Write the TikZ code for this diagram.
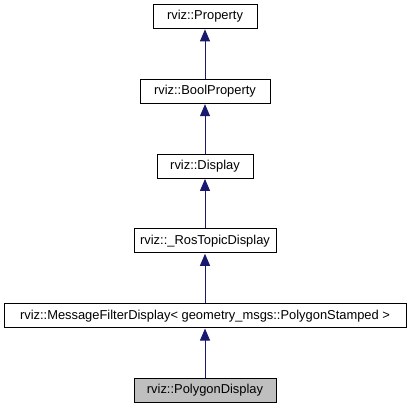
\documentclass[tikz,border=0pt]{standalone}
\usepackage{fontspec}
\setmainfont{Liberation Sans}
\usetikzlibrary{arrows.meta}
\definecolor{edgeblue}{HTML}{191970}
\definecolor{hlgray}{HTML}{BFBFBF}
\tikzset{
  cls/.style={draw=black, line width=0.9pt, minimum height=24pt, inner sep=0pt, font=\fontsize{12.9}{14}\selectfont, fill=white},
  inh/.style={draw=edgeblue, line width=1pt, -{Triangle[length=12pt,width=10pt]}, shorten >=0.4pt}
}
\begin{document}
\begin{tikzpicture}[x=1pt,y=1pt]
\useasboundingbox (0,0) rectangle (411,-411);
\node[cls, minimum width=104pt] (prop) at (205,-16.5) {rviz::Property};
\node[cls, minimum width=130pt] (bool) at (205,-91.3) {rviz::BoolProperty};
\node[cls, minimum width=96pt] (disp) at (205,-166.1) {rviz::Display};
\node[cls, minimum width=142pt] (ros) at (205,-240.9) {rviz::\_RosTopicDisplay};
\node[cls, minimum width=402pt] (mfd) at (205,-315.7) {rviz::MessageFilterDisplay< geometry\_msgs::PolygonStamped >};
\node[cls, minimum width=142pt, fill=hlgray] (poly) at (205,-390.5) {rviz::PolygonDisplay};
\draw[inh] (bool.north) -- (prop.south);
\draw[inh] (disp.north) -- (bool.south);
\draw[inh] (ros.north) -- (disp.south);
\draw[inh] (mfd.north) -- (ros.south);
\draw[inh] (poly.north) -- (mfd.south);
\end{tikzpicture}
\end{document}
